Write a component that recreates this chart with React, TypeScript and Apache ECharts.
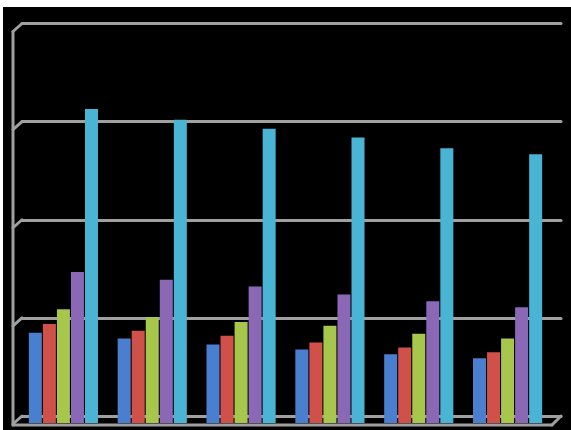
import React, { useEffect, useRef } from "react";
import * as echarts from "echarts";

// Six groups of five series, drawn as clustered bars in front of a 3D-style wall and floor.
const categories = ["1", "2", "3", "4", "5", "6"];
const seriesNames = ["Series 1", "Series 2", "Series 3", "Series 4", "Series 5"];
const blueValues = [9.2, 8.6, 8.0, 7.5, 7.0, 6.6];
const redValues = [10.1, 9.4, 8.9, 8.2, 7.7, 7.2];
const greenValues = [11.6, 10.8, 10.3, 9.9, 9.1, 8.6];
const purpleValues = [15.4, 14.6, 13.9, 13.1, 12.4, 11.8];
const cyanValues = [32.0, 30.9, 30.0, 29.1, 28.0, 27.4];
const yTicks = [0, 10, 20, 30, 40];

const seriesValues = [blueValues, redValues, greenValues, purpleValues, cyanValues];
const seriesColors = ["#4a7fcf", "#d0504a", "#a6c64c", "#8a68b5", "#4ab4d4"];

const W = 571;
const H = 430;
const FRAME = "#a0a0a0";
const DEPTH = 8; // wall-to-front offset of the faux 3D frame

export default function App() {
  const ref = useRef<HTMLDivElement>(null);

  useEffect(() => {
    if (!ref.current) return;
    const chart = echarts.init(ref.current, null, { renderer: "svg" });

    const wallLeft = 22;
    const wallRight = W - 10;

    chart.setOption({
      animation: false,
      backgroundColor: "transparent",
      grid: [
        // back wall, carries the horizontal gridlines
        { left: wallLeft, right: W - wallRight, top: 23.5, bottom: 14, containLabel: false },
        // bars, sitting slightly forward of the wall
        { left: 19, right: 19, top: 30.5, bottom: 7, containLabel: false },
      ],
      xAxis: [
        {
          gridIndex: 0,
          type: "category",
          data: categories,
          show: false,
        },
        {
          gridIndex: 1,
          type: "category",
          data: categories,
          axisLine: { show: false },
          axisTick: { show: false },
          axisLabel: { show: false },
          splitLine: { show: false },
        },
      ],
      yAxis: [
        {
          gridIndex: 0,
          type: "value",
          min: yTicks[0],
          max: yTicks[yTicks.length - 1],
          interval: 10,
          axisLine: { show: false },
          axisTick: { show: false },
          axisLabel: { show: false },
          splitLine: { show: true, lineStyle: { color: FRAME, width: 3, cap: "round" } },
        },
        {
          gridIndex: 1,
          type: "value",
          min: yTicks[0],
          max: yTicks[yTicks.length - 1],
          interval: 10,
          show: false,
          splitLine: { show: false },
        },
      ],
      series: seriesNames.map((name, i) => ({
        name,
        type: "bar",
        xAxisIndex: 1,
        yAxisIndex: 1,
        data: seriesValues[i],
        barWidth: 13,
        barGap: "8%",
        itemStyle: { color: seriesColors[i] },
        z: 3,
      })),
    });

    // faux 3D frame: left wall edge, corner diagonals and the floor's front edge
    const tickY = yTicks.map((v) => chart.convertToPixel({ yAxisIndex: 0 }, v) as number);
    const edgeX = wallLeft - DEPTH - 1;
    const lineStyle = { stroke: FRAME, lineWidth: 3, lineCap: "round" };
    const floorY = tickY[0];
    const frontY = floorY + DEPTH + 1;
    const elements: any[] = [
      {
        type: "line",
        shape: { x1: edgeX, y1: tickY[tickY.length - 1] + DEPTH, x2: edgeX, y2: frontY },
        style: lineStyle,
        z: 1,
      },
      {
        type: "line",
        shape: { x1: edgeX, y1: frontY, x2: wallRight - DEPTH - 1, y2: frontY },
        style: lineStyle,
        z: 1,
      },
      {
        type: "line",
        shape: { x1: wallRight - DEPTH - 1, y1: frontY, x2: wallRight, y2: floorY },
        style: lineStyle,
        z: 1,
      },
      ...tickY.map((y) => ({
        type: "line",
        shape: { x1: edgeX, y1: y + DEPTH, x2: wallLeft, y2: y },
        style: lineStyle,
        z: 1,
      })),
    ];
    chart.setOption({ graphic: { elements } });

    return () => chart.dispose();
  }, []);

  return (
    <div style={{ position: "fixed", left: 0, top: 0, width: W, height: H, background: "#ffffff" }}>
      <div style={{ position: "absolute", left: 3, top: 7, right: 0, bottom: 0, background: "#000000" }} />
      <div ref={ref} style={{ position: "absolute", left: 0, top: 0, width: W, height: H }} />
    </div>
  );
}
